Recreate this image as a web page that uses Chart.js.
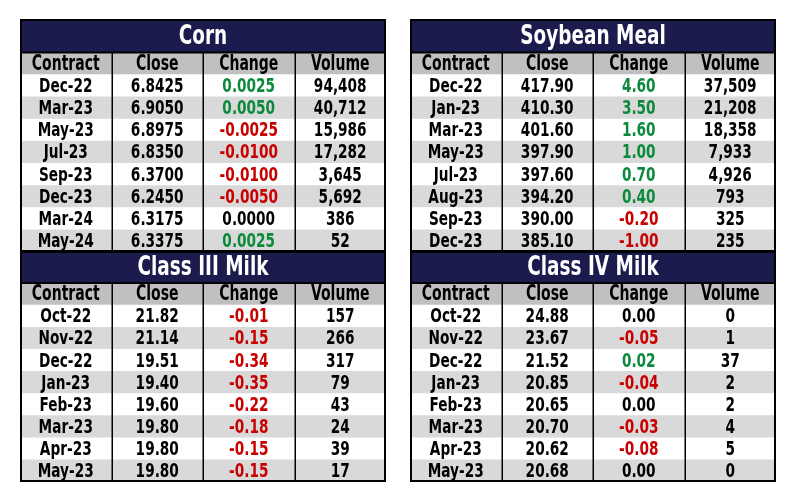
<!DOCTYPE html>
<html>
<head>
<meta charset="utf-8">
<script src="https://cdn.jsdelivr.net/npm/chart.js@4.4.0/dist/chart.umd.min.js"></script>
<style>
  body { margin: 0; background: #fff; width: 797px; height: 503px; overflow: hidden; }
  .box { position: absolute; width: 366px; }
</style>
</head>
<body>
<div class="box" style="left:20px; top:19px; height:233px;"><canvas id="corn"></canvas></div>
<div class="box" style="left:410px; top:19px; height:233px;"><canvas id="meal"></canvas></div>
<div class="box" style="left:20px; top:251px; height:231px;"><canvas id="milk3"></canvas></div>
<div class="box" style="left:410px; top:251px; height:231px;"><canvas id="milk4"></canvas></div>
<script>
const headers = ['Contract', 'Close', 'Change', 'Volume'];

const cornContracts = ['Dec-22', 'Mar-23', 'May-23', 'Jul-23', 'Sep-23', 'Dec-23', 'Mar-24', 'May-24'];
const cornClose = [6.8425, 6.9050, 6.8975, 6.8350, 6.3700, 6.2450, 6.3175, 6.3375];
const cornChange = [0.0025, 0.0050, -0.0025, -0.0100, -0.0100, -0.0050, 0.0000, 0.0025];
const cornVolume = [94408, 40712, 15986, 17282, 3645, 5692, 386, 52];

const mealContracts = ['Dec-22', 'Jan-23', 'Mar-23', 'May-23', 'Jul-23', 'Aug-23', 'Sep-23', 'Dec-23'];
const mealClose = [417.90, 410.30, 401.60, 397.90, 397.60, 394.20, 390.00, 385.10];
const mealChange = [4.60, 3.50, 1.60, 1.00, 0.70, 0.40, -0.20, -1.00];
const mealVolume = [37509, 21208, 18358, 7933, 4926, 793, 325, 235];

const milk3Contracts = ['Oct-22', 'Nov-22', 'Dec-22', 'Jan-23', 'Feb-23', 'Mar-23', 'Apr-23', 'May-23'];
const milk3Close = [21.82, 21.14, 19.51, 19.40, 19.60, 19.80, 19.80, 19.80];
const milk3Change = [-0.01, -0.15, -0.34, -0.35, -0.22, -0.18, -0.15, -0.15];
const milk3Volume = [157, 266, 317, 79, 43, 24, 39, 17];

const milk4Contracts = ['Oct-22', 'Nov-22', 'Dec-22', 'Jan-23', 'Feb-23', 'Mar-23', 'Apr-23', 'May-23'];
const milk4Close = [24.88, 23.67, 21.52, 20.85, 20.65, 20.70, 20.62, 20.68];
const milk4Change = [0.00, -0.05, 0.02, -0.04, 0.00, -0.03, -0.08, 0.00];
const milk4Volume = [0, 1, 37, 2, 2, 4, 5, 0];

const NAVY = '#1b1b4d';
const HEAD_BG = '#c0c0c0';
const ALT_BG = '#d9d9d9';
const GREEN = '#0c8a3c';
const RED = '#c80000';
const SQUEEZE = 0.76; // the picture uses a very condensed face

function drawText(ctx, txt, x, y, size, color) {
    ctx.save();
    ctx.font = `bold ${size}px 'DejaVu Sans Condensed', 'DejaVu Sans', sans-serif`;
    ctx.fillStyle = color;
    ctx.textAlign = 'center';
    ctx.textBaseline = 'middle';
    ctx.translate(x, y);
    ctx.scale(SQUEEZE, 1);
    ctx.fillText(txt, 0, 0);
    ctx.restore();
}

function makeTable(id, title, contracts, close, change, volume, dec, titleH) {
    const rows = ['Contract'].concat(contracts);
    const cells = [headers];
    contracts.forEach((c, i) => {
        cells.push([c, close[i].toFixed(dec), change[i].toFixed(dec), volume[i].toLocaleString('en-US')]);
    });

    const tablePlugin = {
        id: 'tableText',
        beforeDraw(chart) {
            const ctx = chart.ctx;
            ctx.save();
            ctx.fillStyle = NAVY;
            ctx.fillRect(0, 0, chart.width, chart.chartArea.top);
            ctx.restore();
            drawText(ctx, title, chart.width / 2, chart.chartArea.top / 2 + 1, 27, '#ffffff');
        },
        afterDatasetsDraw(chart) {
            const ctx = chart.ctx;
            const xs = chart.scales.x, ys = chart.scales.y;
            const area = chart.chartArea;
            // column dividers
            ctx.save();
            ctx.strokeStyle = '#000';
            ctx.lineWidth = 1.5;
            for (let c = 1; c < 4; c++) {
                const px = Math.round(xs.getPixelForValue(c)) + 0.25;
                ctx.beginPath();
                ctx.moveTo(px, area.top);
                ctx.lineTo(px, area.bottom);
                ctx.stroke();
            }
            ctx.lineWidth = 2;
            ctx.beginPath();
            ctx.moveTo(0, area.top);
            ctx.lineTo(chart.width, area.top);
            ctx.stroke();
            ctx.strokeRect(1, 1, chart.width - 2, chart.height - 2);
            ctx.restore();

            cells.forEach((row, r) => {
                const py = ys.getPixelForValue(r) + 1;
                row.forEach((txt, c) => {
                    let color = '#000';
                    if (r > 0 && c === 2) {
                        const v = change[r - 1];
                        if (v > 0) color = GREEN;
                        else if (v < 0) color = RED;
                    }
                    drawText(ctx, txt, xs.getPixelForValue(c + 0.5), py, r === 0 ? 20.5 : 20, color);
                });
            });
        }
    };

    return new Chart(document.getElementById(id), {
        type: 'bar',
        data: {
            labels: rows,
            datasets: [{
                data: rows.map(() => [0, 4]),
                backgroundColor: rows.map((r, i) => i === 0 ? HEAD_BG : (i % 2 === 1 ? '#ffffff' : ALT_BG)),
                borderWidth: 0,
                barPercentage: 1,
                categoryPercentage: 1
            }]
        },
        options: {
            indexAxis: 'y',
            responsive: true,
            maintainAspectRatio: false,
            animation: false,
            layout: { padding: { top: titleH, left: 0, right: 0, bottom: 0 } },
            scales: {
                x: { type: 'linear', min: 0, max: 4, display: false },
                y: { type: 'category', display: false, offset: true }
            },
            plugins: { legend: { display: false }, tooltip: { enabled: false }, title: { display: false } }
        },
        plugins: [tablePlugin]
    });
}

makeTable('corn', 'Corn', cornContracts, cornClose, cornChange, cornVolume, 4, 33.5);
makeTable('meal', 'Soybean Meal', mealContracts, mealClose, mealChange, mealVolume, 2, 33.5);
makeTable('milk3', 'Class III Milk', milk3Contracts, milk3Close, milk3Change, milk3Volume, 2, 32);
makeTable('milk4', 'Class IV Milk', milk4Contracts, milk4Close, milk4Change, milk4Volume, 2, 32);
</script>
</body>
</html>
